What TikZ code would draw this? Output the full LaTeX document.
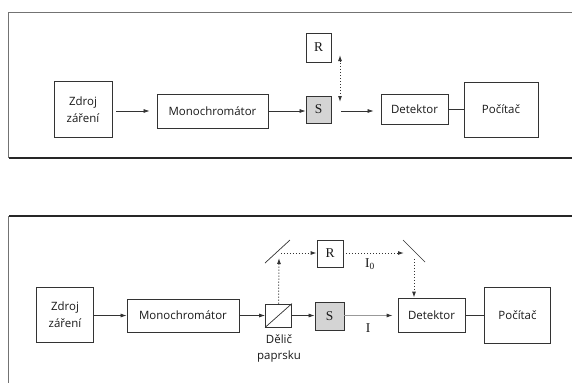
\documentclass[tikz,border=0pt]{standalone}
\usepackage{fontspec}
\setmainfont{Liberation Serif}
\newfontfamily\uisans{Open Sans}
\usetikzlibrary{arrows.meta,calc}
\definecolor{ln}{HTML}{333333}
\definecolor{sfill}{HTML}{D4D4D4}
\begin{document}
\begin{tikzpicture}[x=1bp,y=-1bp,
  box/.style={draw=ln,line width=0.8bp,inner sep=0pt,font=\uisans\fontsize{11.5}{17}\selectfont,align=center,text=black!90},
  sbox/.style={draw=ln,line width=0.8bp,inner sep=0pt,font=\fontsize{13.5}{15}\selectfont,text=black!90},
  lbl/.style={inner sep=0pt,font=\fontsize{13.5}{15}\selectfont,text=black!90},
  tip/.tip={Latex[length=6bp,width=4bp]},
  arr/.style={-tip,line width=0.7bp,draw=ln},
  dotl/.style={dotted,line width=1bp,draw=ln},
  plain/.style={line width=0.7bp,draw=ln}]
\useasboundingbox (0,0) rectangle (572,383);
\fill[white] (0,0) rectangle (572,383);
% frames
\draw[line width=0.8bp,black!55] (572,12) -- (8.5,12) -- (8.5,158);
\draw[line width=1.6bp,black!85] (8.5,158) -- (572,158);
\draw[line width=1.6bp,black!85] (572,216) -- (8.5,216);
\draw[line width=0.8bp,black!55] (8.5,216) -- (8.5,383);
% ---------- top diagram
\node[box,minimum width=58bp,minimum height=56bp] (zdroj1) at (83,109.5) {Zdroj\\záření};
\node[box,minimum width=111bp,minimum height=34bp] (mono1) at (212.5,111) {Monochromátor};
\node[sbox,fill=sfill,minimum width=25bp,minimum height=27bp] (s1) at (318.5,109.5) {S};
\node[sbox,minimum width=25bp,minimum height=29bp] (r1) at (318.5,47.5) {R};
\node[box,minimum width=67bp,minimum height=30bp] (det1) at (414.5,109) {Detektor};
\node[box,minimum width=74bp,minimum height=55bp] (poc1) at (501,109.5) {Počítač};
\draw[arr,shorten <=4bp,shorten >=7bp] (zdroj1.east |- mono1.west) -- (mono1.west);
\draw[arr] (mono1.east) -- (s1.west |- mono1.east);
\draw[arr,shorten <=10bp,shorten >=7bp] (s1.east |- 0,111) -- (det1.west |- 0,111);
\draw[plain] (det1.east) -- (det1.east -| poc1.west);
\coordinate (d1a) at (340,55);
\coordinate (d1b) at (340,102);
\draw[dotl,tip-tip] (d1a) -- (d1b);
% ---------- bottom diagram
\node[box,minimum width=57bp,minimum height=55bp] (zdroj2) at (65,314.5) {Zdroj\\záření};
\node[box,minimum width=112bp,minimum height=33bp] (mono2) at (183,315.5) {Monochromátor};
\node[draw=ln,line width=0.8bp,minimum width=26bp,minimum height=23bp,inner sep=0pt] (split) at (278.5,315.5) {};
\draw[plain] (split.south west) -- (split.north east);
\node[sbox,fill=sfill,minimum width=29bp,minimum height=28bp] (s2) at (329.5,316) {S};
\node[sbox,minimum width=26bp,minimum height=27bp] (r2) at (330,253.5) {R};
\node[box,minimum width=67bp,minimum height=34bp] (det2) at (431.5,315) {Detektor};
\node[box,minimum width=66bp,minimum height=56bp] (poc2) at (517.5,315) {Počítač};
\node[box,draw=none,anchor=north,font=\uisans\fontsize{11.5}{16}\selectfont] (dlbl) at (279,334) {Dělič\\paprsku};
% mirrors
\coordinate (m1a) at (265,263);
\coordinate (m1b) at (290,240);
\coordinate (m2a) at (403,240);
\coordinate (m2b) at (425,262);
\draw[plain] (m1a) -- (m1b);
\draw[plain] (m2a) -- (m2b);
% beams
\draw[arr] (zdroj2.east |- mono2.west) -- (mono2.west);
\draw[arr] (mono2.east) -- (split.west |- mono2.east);
\draw[arr] (split.east |- mono2.east) -- (s2.west |- mono2.east);
\draw[-{Latex[length=6bp,width=4bp,color=ln]},line width=0.9bp,draw=black!40,shorten >=5bp] (s2.east |- mono2.east) -- (det2.west |- mono2.east);
\draw[plain] (det2.east) -- (det2.east -| poc2.west);
\coordinate (m1t) at (279,258);
\coordinate (m1h) at (281,253);
\coordinate (m2h) at (404,253);
\coordinate (m2v) at (414,259);
\draw[dotl,-tip] (split.north) -- (m1t);
\draw[dotl,-tip] (m1h) -- (r2.west |- m1h);
\draw[dotl,-tip] (r2.east |- m2h) -- (m2h);
\draw[dotl,-tip] (m2v) -- (m2v |- det2.north);
\node[lbl] (i0) at (370,264) {I\textsubscript{0}};
\node[lbl] (i1) at (368,328) {I};
\end{tikzpicture}
\end{document}
